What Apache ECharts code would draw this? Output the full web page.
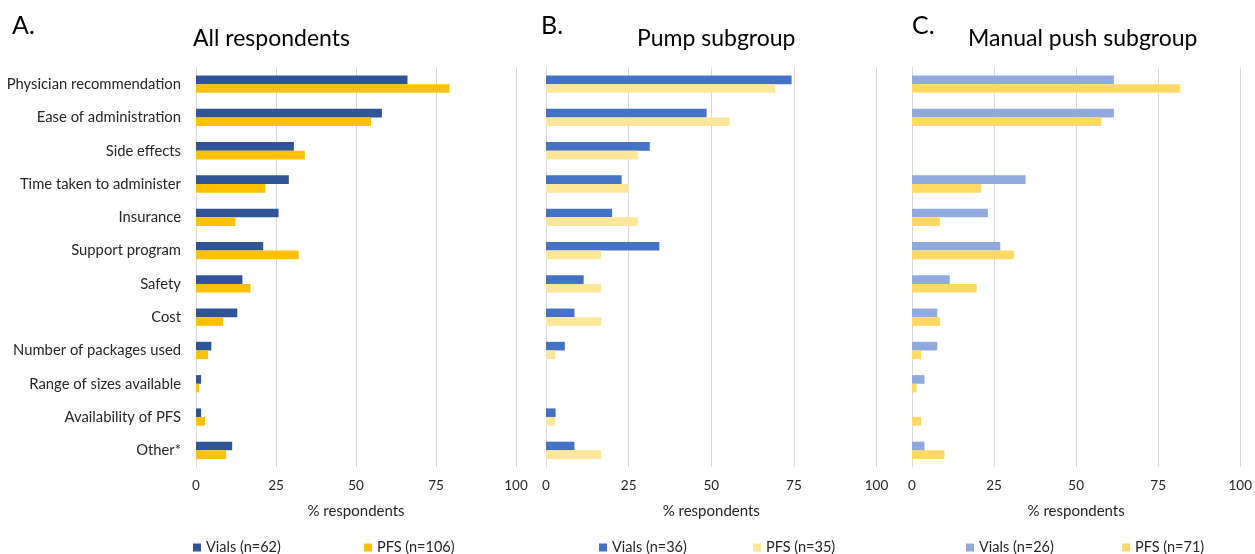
<!DOCTYPE html>
<html>
<head>
<meta charset="utf-8">
<style>
  html, body { margin: 0; padding: 0; background: #ffffff; }
  #chart { width: 1255px; height: 554px; }
</style>
<script src="https://cdn.jsdelivr.net/npm/echarts@6/dist/echarts.min.js"></script>
</head>
<body>
<div id="chart"></div>
<script>
// Reasons for choosing a formulation, % of respondents in each group
const categories = [
  'Physician recommendation', 'Ease of administration', 'Side effects',
  'Time taken to administer', 'Insurance', 'Support program', 'Safety', 'Cost',
  'Number of packages used', 'Range of sizes available', 'Availability of PFS', 'Other*'
];
const xTicks = [0, 25, 50, 75, 100];

const allVials   = [66.1, 58.1, 30.6, 29.0, 25.8, 21.0, 14.5, 12.9, 4.8, 1.6, 1.6, 11.3];
const allPfs     = [79.2, 54.7, 34.0, 21.7, 12.3, 32.1, 17.0, 8.5, 3.8, 0.9, 2.8, 9.4];
const pumpVials  = [74.3, 48.6, 31.4, 22.9, 20.0, 34.3, 11.4, 8.6, 5.7, 0, 2.9, 8.6];
const pumpPfs    = [69.4, 55.6, 27.8, 25.0, 27.8, 16.7, 16.7, 16.7, 2.8, 0, 2.8, 16.7];
const manualVials = [61.5, 61.5, 0, 34.6, 23.1, 26.9, 11.5, 7.7, 7.7, 3.8, 0, 3.8];
const manualPfs   = [81.7, 57.7, 0, 21.1, 8.5, 31.0, 19.7, 8.5, 2.8, 1.4, 2.8, 9.9];

const panelLetters = ['A.', 'B.', 'C.'];
const panelTitles = ['All respondents', 'Pump subgroup', 'Manual push subgroup'];
const seriesNames = [
  ['Vials (n=62)', 'PFS (n=106)'],
  ['Vials (n=36)', 'PFS (n=35)'],
  ['Vials (n=26)', 'PFS (n=71)']
];
const seriesData = [[allVials, allPfs], [pumpVials, pumpPfs], [manualVials, manualPfs]];
const seriesColors = [
  ['#2F5597', '#FFC000'],
  ['#4472C4', '#FFE699'],
  ['#8FAADC', '#FFD966']
];

const FONT = 'Lato';
const TEXT = '#262626';
const GRIDLINE = '#d9d9d9';

// plot areas of the three panels
const grids = [
  { left: 196, right: 739, top: 67.5, bottom: 87 },
  { left: 546, right: 378.5, top: 67.5, bottom: 87 },
  { left: 912, right: 13, top: 67.5, bottom: 87 }
];
const letterPos = [{ left: 12, top: 13 }, { left: 541, top: 13 }, { left: 912, top: 13 }];
const titlePos = [{ left: 193, top: 27 }, { left: 637, top: 27 }, { left: 968, top: 27 }];
const legendPos = [[193, 364], [599, 753], [966, 1122]];

const option = {
  backgroundColor: '#ffffff',
  animation: false,
  textStyle: { fontFamily: FONT },
  title: [],
  legend: [],
  grid: grids,
  xAxis: [],
  yAxis: [],
  series: []
};

for (let p = 0; p < 3; p++) {
  option.title.push({
    text: panelLetters[p], left: letterPos[p].left, top: letterPos[p].top, padding: 0,
    textStyle: { fontFamily: FONT, fontSize: 25, fontWeight: 'normal', color: '#000000' }
  });
  option.title.push({
    text: panelTitles[p], left: titlePos[p].left, top: titlePos[p].top, padding: 0,
    textStyle: { fontFamily: FONT, fontSize: 23, fontWeight: 'normal', color: '#000000' }
  });
  option.xAxis.push({
    type: 'value', gridIndex: p, min: xTicks[0], max: xTicks[xTicks.length - 1], interval: 25,
    name: '% respondents', nameLocation: 'middle', nameGap: 37,
    nameTextStyle: { fontFamily: FONT, fontSize: 15, color: TEXT },
    axisLine: { show: false }, axisTick: { show: false },
    axisLabel: { fontFamily: FONT, fontSize: 13.5, color: TEXT, margin: 12 },
    splitLine: { show: true, lineStyle: { color: GRIDLINE, width: 1 } }
  });
  option.yAxis.push({
    type: 'category', gridIndex: p, data: categories, inverse: true,
    axisLine: { show: true, lineStyle: { color: GRIDLINE, width: 1 } },
    axisTick: { show: false },
    axisLabel: { show: p === 0, fontFamily: FONT, fontSize: 14.8, color: TEXT, margin: 15 }
  });
  for (let s = 0; s < 2; s++) {
    option.series.push({
      type: 'bar', name: seriesNames[p][s], xAxisIndex: p, yAxisIndex: p,
      data: seriesData[p][s], barGap: '0%', barCategoryGap: '48%',
      itemStyle: { color: seriesColors[p][s] }
    });
    option.legend.push({
      data: [seriesNames[p][s]], left: legendPos[p][s], top: 540, padding: 0,
      itemWidth: 8, itemHeight: 8, itemGap: 0, icon: 'rect', selectedMode: false,
      textStyle: { fontFamily: FONT, fontSize: 14.5, color: TEXT, padding: [0, 0, 0, 0] }
    });
  }
}

const chart = echarts.init(document.getElementById('chart'), null, { renderer: 'canvas' });
chart.setOption(option);
</script>
</body>
</html>
